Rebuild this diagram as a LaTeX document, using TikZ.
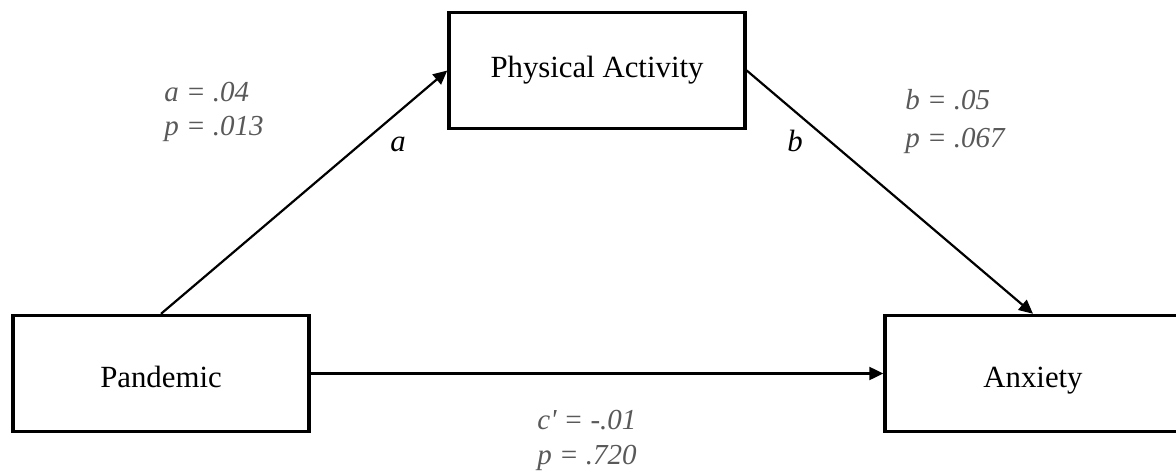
\documentclass[tikz,border=0pt]{standalone}
\usepackage{fontspec}
\setmainfont{Liberation Serif}
\usetikzlibrary{arrows.meta}
\definecolor{coefgray}{RGB}{89,89,89}
\tikzset{
    varbox/.style={draw, line width=1.7pt, minimum width=148pt, minimum height=58pt,
        inner sep=0pt, text height=11pt, text depth=3.5pt, font=\fontsize{15.4}{18}\selectfont},
    lowbox/.style={varbox, text height=14pt, text depth=0.5pt},
    pathline/.style={line width=1.1pt, -{Triangle[length=7pt,width=6.5pt]}},
    pathname/.style={inner sep=0pt, font=\fontsize{15.4}{18}\selectfont\itshape},
}
\begin{document}
\begin{tikzpicture}[x=0.5pt, y=-0.5pt]
    \useasboundingbox (0,0) rectangle (1176,475);

    % 变量
    \node[lowbox] (pandemic) at (161,373.5) {Pandemic};
    \node[varbox] (activity) at (597,70.5) {Physical Activity};
    \node[lowbox] (anxiety) at (1033,373.5) {Anxiety};

    % 路径
    \draw[pathline] (pandemic.north) -- (activity.west);
    \draw[pathline] (activity.east) -- (anxiety.north);
    \draw[pathline] (pandemic.east) -- (anxiety.west);

    % 路径名
    \node[pathname, anchor=base] (namea) at (398,152) {a};
    \node[pathname, anchor=base] (nameb) at (795,152) {b};

    % 系数
    \node[coefgray, align=left, inner sep=0pt, anchor=west,
        font=\fontsize{14.5}{17}\selectfont\itshape] (coefa) at (164,112) {a = .04\\p = .013};
    \node[coefgray, align=left, inner sep=0pt, anchor=west,
        font=\fontsize{14.5}{19}\selectfont\itshape] (coefb) at (905,122) {b = .05\\p = .067};
    \node[coefgray, align=left, inner sep=0pt, anchor=west,
        font=\fontsize{14.5}{17.5}\selectfont\itshape] (coefc) at (537,440) {c\textquotesingle{} = -.01\\p = .720};
\end{tikzpicture}
\end{document}
